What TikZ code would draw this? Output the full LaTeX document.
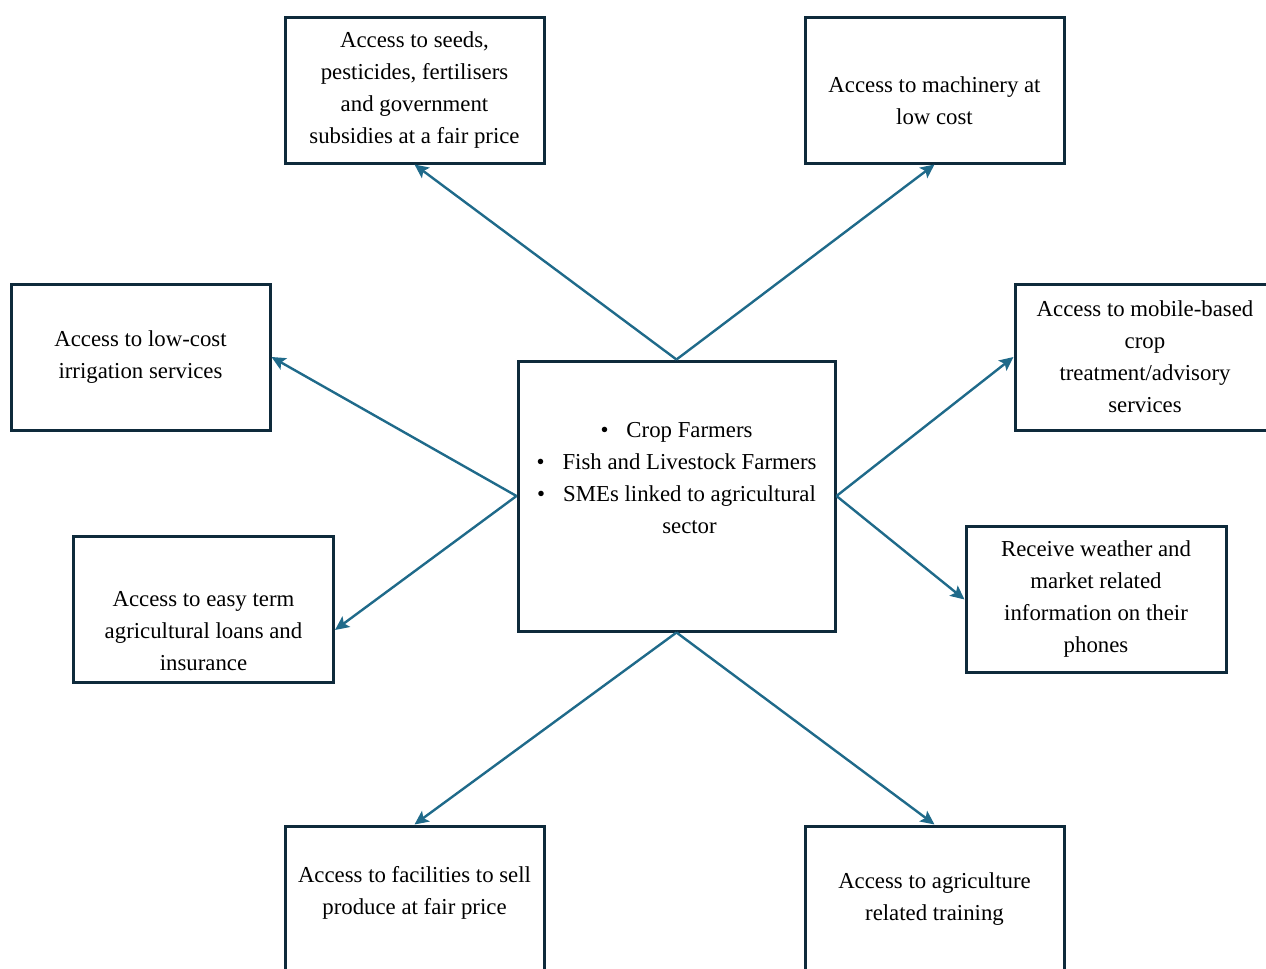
\documentclass[tikz,border=0pt]{standalone}
\usepackage{fontspec}
\setmainfont{Liberation Serif}
\usetikzlibrary{arrows.meta}
\definecolor{boxline}{HTML}{0E2A3B}
\definecolor{arrowblue}{HTML}{1F6A8A}

\begin{document}
\begin{tikzpicture}[x=0.5pt,y=-0.5pt,
  box/.style={draw=boxline,line width=1.5pt,fill=white,align=center,inner sep=0pt,
    minimum width=129.5pt,minimum height=73pt,font=\fontsize{11.4}{16}\selectfont},
  link/.style={draw=arrowblue,line width=1.2pt,-{Stealth[length=7pt,width=6.5pt,inset=1.5pt]}}]
  \useasboundingbox (0,0) rectangle (1266,969);
  \node[box] (seeds) at (414.5,90) {Access to seeds,\\pesticides, fertilisers\\and government\\subsidies at a fair price};
  \node[box] (machinery) at (934.5,90) {\rule{0pt}{19pt}Access to machinery at\\low cost};
  \node[box] (irrigation) at (140.5,357) {Access to low-cost\\irrigation services};
  \node[box,minimum width=130pt] (mobile) at (1145,357) {Access to mobile-based\\crop\\treatment/advisory\\services};
  \node[box,minimum width=158.5pt,minimum height=135pt] (hub) at (676.5,496)
    {\textbullet\hspace{9pt}Crop Farmers\\
     \textbullet\hspace{9pt}Fish and Livestock Farmers\\
     \textbullet\hspace{9pt}SMEs linked to agricultural\\
     \hphantom{\textbullet\hspace{9pt}}sector\rule[-18pt]{0pt}{18pt}};
  \node[box,minimum width=130pt] (loans) at (203.5,609) {\rule{0pt}{30pt}Access to easy term\\agricultural loans and\\insurance};
  \node[box,minimum width=130pt] (weather) at (1096,599.5) {Receive weather and\\market related\\information on their\\phones};
  \node[box] (selling) at (414.5,899) {Access to facilities to sell\\produce at fair price\rule[-9pt]{0pt}{9pt}};
  \node[box] (training) at (934.5,899) {Access to agriculture\\related training};

  \draw[link] (hub.north) -- (seeds.south);
  \draw[link] (hub.north) -- (machinery.south);
  \draw[link] (hub.west) -- (irrigation.east);
  \draw[link] (hub.west) -- ([yshift=-10.5pt]loans.east);
  \draw[link] (hub.east) -- (mobile.west);
  \draw[link] (hub.east) -- (weather.west);
  \draw[link] (hub.south) -- (selling.north);
  \draw[link] (hub.south) -- (training.north);
\end{tikzpicture}
\end{document}
